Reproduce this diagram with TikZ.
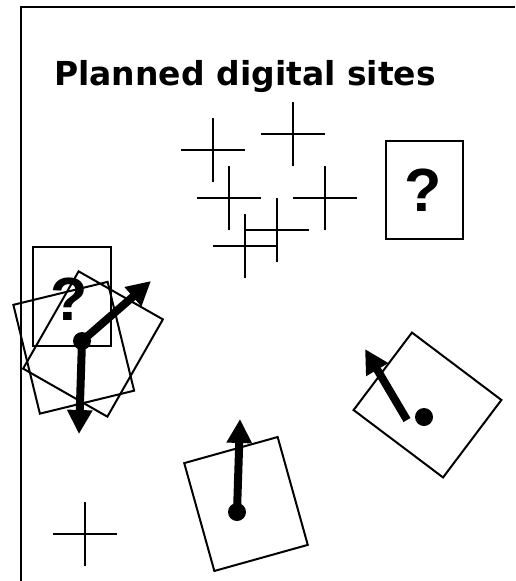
\documentclass[tikz,border=0pt]{standalone}
\usepackage{fontspec}
\setmainfont{DejaVu Sans}
\newfontfamily\markfont{Liberation Sans}
\usetikzlibrary{arrows.meta}
\tikzset{
  site/.style={draw,line width=2pt,minimum width=97pt,minimum height=112pt,inner sep=0pt},
  plan/.style={draw,line width=2pt,inner sep=0pt},
  dot/.style={circle,fill,minimum size=18pt,inner sep=0pt},
  heading/.style={-{Triangle[width=24pt,length=24pt]},line width=8pt},
  query/.style={font=\markfont\fontsize{61}{61}\selectfont\bfseries,inner sep=0pt}
}

\begin{document}
\begin{tikzpicture}[x=1pt,y=-1pt]
\useasboundingbox (0,0) rectangle (515,581);
\draw[line width=2pt] (21,581) -- (21,7) -- (515,7);
\node[anchor=base west,inner sep=0pt,font=\fontsize{33}{33}\selectfont\bfseries] (title) at (54,85) {Planned digital sites};

% candidate positions
\foreach \x/\y in {213/150,293/134,229/198,325/198,277/230,245/246,85/534}
  \draw[line width=2pt] (\x-32,\y) -- (\x+32,\y) (\x,\y-32) -- (\x,\y+32);

% unknown sites
\node[plan,minimum width=77pt,minimum height=98pt] (boxR) at (424.5,190) {};
\node[query] (qR) at (423,190.5) {?};
\node[plan,minimum width=78pt,minimum height=99pt] (boxL) at (72,296.5) {};
\node[query] (qL) at (69,299.5) {?};

% placed sites
\node[site,rotate=13.7] (siteA) at (73.75,347.75) {};
\node[site,rotate=-29.7] (siteB) at (93,344) {};
\node[site,rotate=53] (siteC) at (427.5,405) {};
\node[site,rotate=15.6] (siteD) at (246,504) {};

\node[dot] (dotL) at (82,341) {};
\node[dot] (dotC) at (424,417) {};
\node[dot] (dotD) at (237,512) {};
\coordinate (tipL1) at (151,281);
\coordinate (tipL2) at (79,434);
\coordinate (tailC) at (407,420);
\coordinate (tipC) at (365,349);
\coordinate (tipD) at (240,419);
\draw[heading] (dotL.center) -- (tipL1);
\draw[heading] (dotL.center) -- (tipL2);
\draw[heading] (tailC) -- (tipC);
\draw[heading] (dotD.center) -- (tipD);
\end{tikzpicture}
\end{document}
